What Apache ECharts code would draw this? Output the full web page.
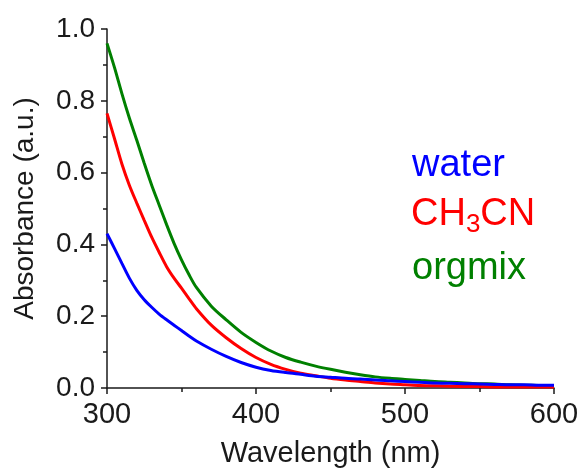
<!DOCTYPE html>
<html>
<head>
<meta charset="utf-8">
<script src="https://cdn.jsdelivr.net/npm/echarts@6/dist/echarts.min.js"></script>
<style>
  html, body { margin: 0; padding: 0; background: #fff; }
  #main { width: 585px; height: 469px; }
</style>
</head>
<body>
<div id="main"></div>
<script>
// wavelength grid (nm)
var wavelength = [300, 305, 310, 315, 320, 325, 330, 335, 340, 345, 350, 355, 360, 370, 380, 390,
  400, 410, 420, 430, 440, 450, 460, 470, 480, 490, 500, 510, 520, 530, 540, 550, 560, 570, 580,
  590, 600];

var water = [0.43, 0.389, 0.347, 0.306, 0.272, 0.246, 0.225, 0.206, 0.190, 0.175, 0.160, 0.145,
  0.131, 0.108, 0.088, 0.071, 0.058, 0.049, 0.043, 0.038, 0.033, 0.030, 0.027, 0.025, 0.022,
  0.020, 0.018, 0.016, 0.014, 0.013, 0.012, 0.011, 0.010, 0.009, 0.009, 0.008, 0.008];
var ch3cn = [0.765, 0.695, 0.624, 0.565, 0.515, 0.467, 0.42, 0.378, 0.338, 0.306, 0.278, 0.249,
  0.221, 0.175, 0.140, 0.110, 0.085, 0.066, 0.052, 0.041, 0.034, 0.027, 0.022, 0.018, 0.014,
  0.011, 0.009, 0.007, 0.006, 0.005, 0.004, 0.004, 0.003, 0.003, 0.003, 0.003, 0.003];
var orgmix = [0.96, 0.893, 0.82, 0.752, 0.69, 0.626, 0.565, 0.51, 0.455, 0.403, 0.357, 0.316,
  0.28, 0.228, 0.19, 0.155, 0.127, 0.103, 0.085, 0.072, 0.061, 0.052, 0.044, 0.037, 0.031,
  0.027, 0.024, 0.021, 0.018, 0.016, 0.014, 0.012, 0.011, 0.009, 0.008, 0.007, 0.006];

var seriesNames = ['water', 'CH3CN', 'orgmix'];
var seriesColors = ['#0000ff', '#ff0000', '#008000'];
var seriesValues = [water, ch3cn, orgmix];

var font = 'Liberation Sans, Arial, sans-serif';
var ink = '#1a1a1a';

function pairs(vals) {
  return wavelength.map(function (w, i) { return [w, vals[i]]; });
}

var myChart = echarts.init(document.getElementById('main'));
var option = {
  animation: false,
  grid: { left: 107, right: 31, top: 29, bottom: 81, containLabel: false, outerBoundsMode: 'none' },
  xAxis: {
    type: 'value',
    min: 300, max: 600, interval: 100,
    name: 'Wavelength (nm)',
    nameLocation: 'middle',
    nameGap: 51,
    nameTextStyle: { fontFamily: font, fontSize: 29, color: ink },
    axisLine: { lineStyle: { color: ink, width: 1.5 } },
    axisTick: { inside: false, length: 6, lineStyle: { color: ink, width: 1.5 } },
    minorTick: { show: true, splitNumber: 2, length: 4, lineStyle: { color: ink, width: 1.5 } },
    axisLabel: { fontFamily: font, fontSize: 29, color: ink, margin: 12 },
    splitLine: { show: false }
  },
  yAxis: {
    type: 'value',
    min: 0, max: 1, interval: 0.2,
    name: 'Absorbance (a.u.)',
    nameLocation: 'middle',
    nameGap: 68,
    nameTextStyle: { fontFamily: font, fontSize: 28, color: ink },
    axisLine: { show: true, lineStyle: { color: ink, width: 1.5 } },
    axisTick: { show: true, length: 6, lineStyle: { color: ink, width: 1.5 } },
    minorTick: { show: true, splitNumber: 2, length: 4, lineStyle: { color: ink, width: 1.5 } },
    axisLabel: {
      fontFamily: font, fontSize: 28, color: ink, margin: 12,
      formatter: function (v) { return v.toFixed(1); }
    },
    splitLine: { show: false }
  },
  series: seriesNames.map(function (n, i) {
    return {
      name: n,
      type: 'line',
      smooth: 0.3,
      showSymbol: false,
      data: pairs(seriesValues[i]),
      lineStyle: { color: seriesColors[i], width: 3 },
      itemStyle: { color: seriesColors[i] },
      z: 3 - i
    };
  }),
  graphic: [
    { type: 'text', left: 412, top: 147,
      style: { text: 'water', font: '38px ' + font, fill: seriesColors[0] } },
    { type: 'text', left: 411, top: 196,
      style: {
        text: '{m|CH}{s|3}{m|CN}',
        rich: {
          m: { fontFamily: font, fontSize: 38, fill: seriesColors[1] },
          s: { fontFamily: font, fontSize: 26, fill: seriesColors[1], padding: [19, 0, 0, 0] }
        }
      } },
    { type: 'text', left: 412, top: 250,
      style: { text: 'orgmix', font: '38px ' + font, fill: seriesColors[2] } }
  ]
};
myChart.setOption(option);
</script>
</body>
</html>
